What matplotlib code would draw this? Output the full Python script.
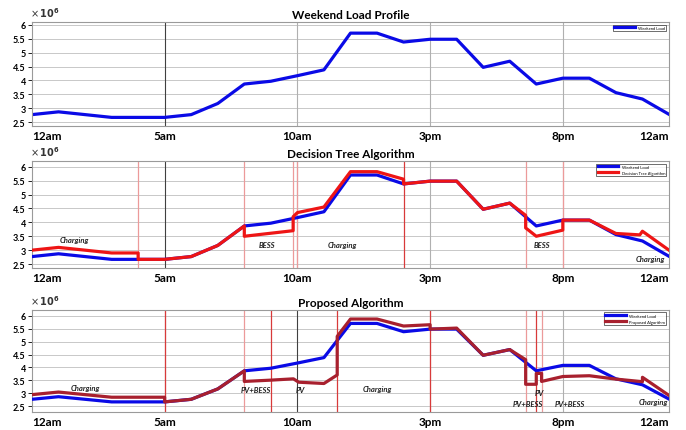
import matplotlib
matplotlib.use("Agg")
from matplotlib import pyplot as plt

plt.rcParams["font.family"] = ["Lato", "DejaVu Sans"]

# weekend load (x10^6), breakpoints in hours
LOAD_H = [0, 1, 3, 5, 6, 7, 8, 9, 10, 11, 12, 13, 14, 15, 16, 17, 18, 19, 20, 21, 22, 23, 24]
LOAD_V = [2.77, 2.87, 2.67, 2.67, 2.77, 3.17, 3.87, 3.97, 4.17, 4.38, 5.7, 5.7, 5.38, 5.48, 5.48,
          4.47, 4.69, 3.87, 4.08, 4.08, 3.56, 3.33, 2.78]

# decision tree schedule
DT_H = [0, 1, 3, 4, 4, 5, 6, 7, 8, 8, 9.84, 9.84, 10, 11, 12, 13, 14, 14, 15, 16, 17, 18,
        18.6, 18.6, 19, 20, 20, 21, 22, 22.9, 23, 24]
DT_V = [3.0, 3.1, 2.9, 2.9, 2.67, 2.67, 2.77, 3.17, 3.87, 3.5, 3.7, 4.2, 4.35, 4.55, 5.82, 5.82,
        5.55, 5.38, 5.48, 5.48, 4.47, 4.69, 4.25, 3.8, 3.5, 3.72, 4.08, 4.08, 3.6, 3.55, 3.68, 3.0]
DT_SWITCH = [4, 8, 9.84, 10, 14, 18.6, 20]
DT_SWITCH_DARK = [False, False, False, False, True, False, False]

# proposed algorithm schedule
PA_H = [0, 1, 3, 5, 5, 6, 7, 8, 8, 9, 9.85, 10.05, 11, 11.5, 11.5, 12, 13, 14, 15, 15, 16, 17,
        18, 18.6, 18.6, 19, 19, 19.2, 19.2, 20, 21, 22, 23, 23, 24]
PA_V = [2.95, 3.05, 2.85, 2.85, 2.67, 2.77, 3.17, 3.87, 3.46, 3.51, 3.56, 3.43, 3.38, 3.71, 5.2,
        5.87, 5.87, 5.6, 5.65, 5.48, 5.52, 4.47, 4.69, 4.3, 3.35, 3.35, 3.77, 3.77, 3.46, 3.65,
        3.68, 3.55, 3.45, 3.62, 2.92]
PA_SWITCH = [5, 8, 9, 11.5, 15, 18.6, 19, 19.2]
PA_SWITCH_DARK = [True, False, True, True, True, False, True, False]

DT_NOTES = [("Charging", 1.6, 3.4), ("BESS", 8.85, 3.22), ("Charging", 11.7, 3.22),
            ("BESS", 19.2, 3.22), ("Charging", 23.3, 2.7)]
PA_NOTES = [("Charging", 2.0, 3.24), ("PV+BESS", 8.45, 3.13), ("PV", 10.1, 3.13),
            ("Charging", 13.0, 3.2), ("PV", 19.1, 3.05), ("PV+BESS", 18.7, 2.62),
            ("PV+BESS", 20.25, 2.62), ("Charging", 23.4, 2.67)]

XTICKS = [0, 5, 10, 15, 20, 24]
XLABELS = ["12am", "5am", "10am", "3pm", "8pm", "12am"]
YTICKS = [2.5, 3, 3.5, 4, 4.5, 5, 5.5, 6]
YLABELS = ["2.5", "3", "3.5", "4", "4.5", "5", "5.5", "6"]

BLUE = "#0a0ae6"
RED = "#ee1515"
DARKRED = "#a8202e"

fig = plt.figure(figsize=(6.86, 4.31), dpi=100)
ax1 = fig.add_axes([0.0466, 0.7053, 0.9286, 0.2413])
ax2 = fig.add_axes([0.0466, 0.3759, 0.9286, 0.2480])
ax3 = fig.add_axes([0.0466, 0.0418, 0.9286, 0.2367])


def style(ax, title, ylim, dark_x):
    ax.set_xlim(0, 24)
    ax.set_ylim(*ylim)
    ax.set_xticks(XTICKS)
    labels = ax.set_xticklabels(XLABELS, fontsize=8.5, fontweight="bold")
    labels[0].set_ha("left")
    labels[-1].set_ha("right")
    ax.set_yticks(YTICKS)
    ax.set_yticklabels(YLABELS, fontsize=6.5, fontweight="bold")
    ax.tick_params(axis="x", length=0, pad=3)
    ax.tick_params(axis="y", length=3, pad=1.5, width=0.6)
    for y in YTICKS:
        ax.axhline(y, color="#c8c8c8", lw=0.7, zorder=0)
    for x in XTICKS[1:-1]:
        ax.axvline(x, color="#404040" if x == dark_x else "#b0b0b0", lw=0.8, zorder=0)
    for s in ax.spines.values():
        s.set_color("#9a9a9a")
        s.set_linewidth(0.8)
    ax.set_title(title, fontsize=8.5, fontweight="bold", pad=3)
    ax.text(-0.003, 1.03, r"$\times\,\mathbf{10^6}$", transform=ax.transAxes, fontsize=7,
            color="#333333", ha="left", va="bottom")


# weekend load profile
style(ax1, "Weekend Load Profile", (2.36, 6.1), 5)
ax1.plot(LOAD_H, LOAD_V, color=BLUE, lw=2.3, label="Weekend Load")
ax1.legend(loc="upper right", fontsize=3, handlelength=5, frameon=True, fancybox=False,
           edgecolor="black", borderaxespad=0.6, borderpad=0.3).get_frame().set_linewidth(0.5)

# decision tree
style(ax2, "Decision Tree Algorithm", (2.36, 6.2), 5)
for x, dark in zip(DT_SWITCH, DT_SWITCH_DARK):
    ax2.axvline(x, color="#d83a3a" if dark else "#ec9a9a", lw=0.9, zorder=1)
ax2.plot(LOAD_H, LOAD_V, color=BLUE, lw=2.3, label="Weekend Load", zorder=3)
ax2.plot(DT_H, DT_V, color=RED, lw=2.3, label="Decision Tree Algorithm", zorder=4)
for txt, x, y in DT_NOTES:
    ax2.text(x, y, txt, fontsize=5.5, style="italic", fontweight="bold", ha="center",
             va="center", color="#222222")
ax2.legend(loc="upper right", fontsize=3, handlelength=5, frameon=True, fancybox=False,
           edgecolor="black", borderaxespad=0.6, borderpad=0.3).get_frame().set_linewidth(0.5)

# proposed algorithm
style(ax3, "Proposed Algorithm", (2.28, 6.22), 10)
for x, dark in zip(PA_SWITCH, PA_SWITCH_DARK):
    ax3.axvline(x, color="#d83a3a" if dark else "#ec9a9a", lw=0.9, zorder=1)
ax3.plot(LOAD_H, LOAD_V, color=BLUE, lw=2.3, label="Weekend Load", zorder=3)
ax3.plot(PA_H, PA_V, color=DARKRED, lw=2.3, label="Proposed Algorithm", zorder=4)
for txt, x, y in PA_NOTES:
    ax3.text(x, y, txt, fontsize=5.5, style="italic", fontweight="bold", ha="center",
             va="center", color="#222222")
ax3.legend(loc="upper right", fontsize=3, handlelength=5, frameon=True, fancybox=False,
           edgecolor="black", borderaxespad=0.6, borderpad=0.3).get_frame().set_linewidth(0.5)

fig.savefig("out.png", dpi=100)
